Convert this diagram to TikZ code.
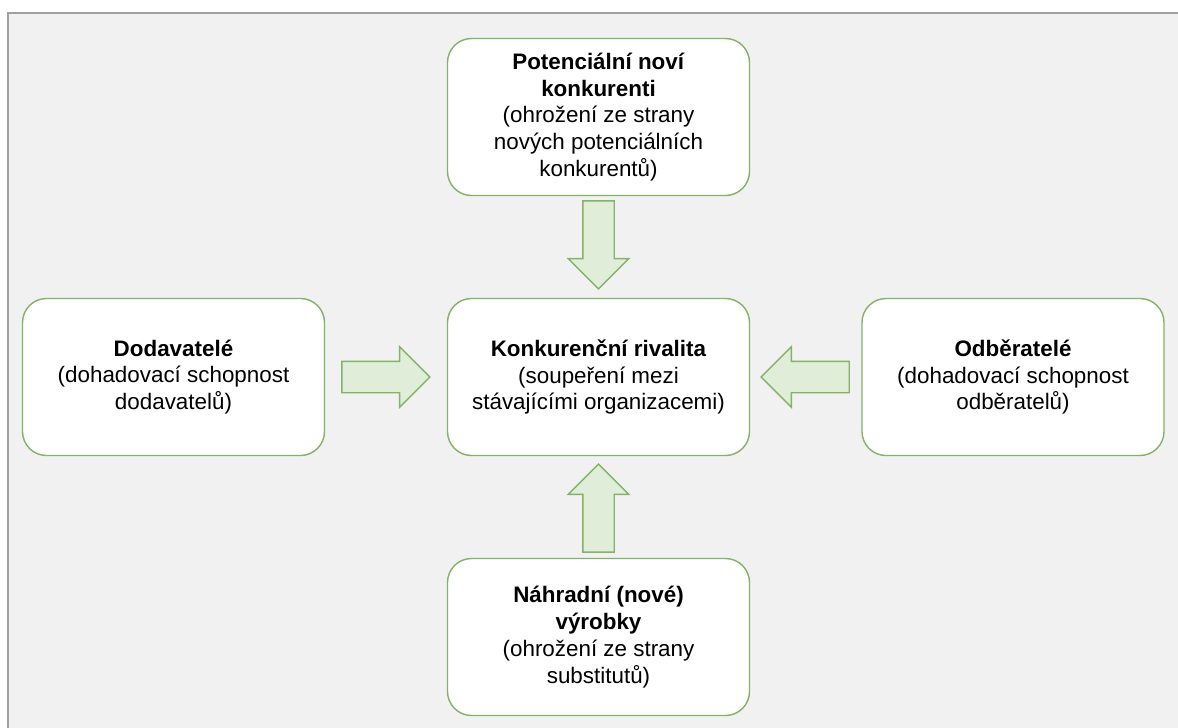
\documentclass[tikz,border=0pt]{standalone}
\usepackage{fontspec}
\setmainfont{Liberation Sans}
\usetikzlibrary{shapes.arrows,calc}

\definecolor{boxgreen}{HTML}{82B366}
\definecolor{arrowfill}{HTML}{E0EED9}
\definecolor{bggray}{HTML}{F1F1F1}
\definecolor{framegray}{HTML}{A0A0A0}

\tikzstyle{force} = [draw=boxgreen,fill=white,line width=0.7pt,rounded corners=12pt,minimum width=151pt,minimum height=78.5pt,align=center,font=\fontsize{11.2}{13.4}\selectfont]
\tikzstyle{push} = [single arrow,draw=boxgreen,fill=arrowfill,line width=0.7pt,inner xsep=0pt,inner ysep=7.5pt,single arrow head extend=7.25pt,minimum height=44pt,anchor=tip]

\begin{document}
\begin{tikzpicture}[x=0.5pt,y=-0.5pt]
	\useasboundingbox (0,0) rectangle (1178,728);
	\fill[bggray] (8,13) rectangle (1184,734);
	\draw[framegray,line width=0.8pt] (8,734) -- (8,13) -- (1184,13);
	\node[force] (entrants) at (598.5,117) {\textbf{Potenciální noví}\\\textbf{konkurenti}\\(ohrožení ze strany\\nových potenciálních\\konkurentů)};
	\node[force] (rivalry) at (598.5,377) {\textbf{Konkurenční rivalita}\\(soupeření mezi\\stávajícími organizacemi)};
	\node[force] (suppliers) at (173.5,377) {\textbf{Dodavatelé}\\(dohadovací schopnost\\dodavatelů)};
	\node[force] (buyers) at (1013,377) {\textbf{Odběratelé}\\(dohadovací schopnost\\odběratelů)};
	\node[force] (substitutes) at (598.5,637) {\textbf{Náhradní (nové)}\\\textbf{výrobky}\\(ohrožení ze strany\\substitutů)};
	\node[push,rotate=-90] (a1) at ($(rivalry.north)+(0,-8)$) {};
	\node[push] (a2) at ($(rivalry.west)+(-16,0)$) {};
	\node[push,rotate=180] (a3) at ($(rivalry.east)+(10,0)$) {};
	\node[push,rotate=90] (a4) at ($(rivalry.south)+(0,7)$) {};
\end{tikzpicture}
\end{document}
